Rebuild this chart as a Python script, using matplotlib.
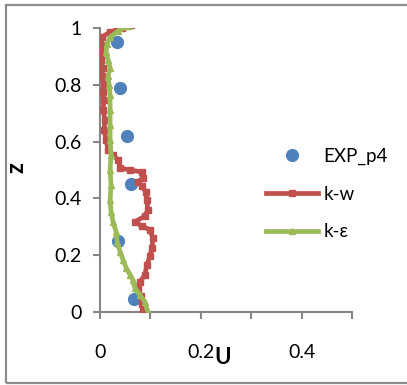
import matplotlib
matplotlib.use("Agg")
import matplotlib.pyplot as plt
from matplotlib.patches import Rectangle
from matplotlib.ticker import MultipleLocator, FuncFormatter

plt.rcParams['font.family'] = ['Lato', 'DejaVu Sans']

exp_u = [0.034, 0.040, 0.054, 0.061, 0.036, 0.067]
exp_z = [0.950, 0.790, 0.620, 0.450, 0.250, 0.046]

kw_u = [0.062, 0.044, 0.020, 0.004, 0.002, 0.006, 0.002, 0.006, 0.004, 0.008,
        0.006, 0.008, 0.006, 0.010, 0.008, 0.012, 0.016, 0.026, 0.036, 0.040,
        0.060, 0.083, 0.085, 0.075, 0.083, 0.091, 0.093, 0.095, 0.089, 0.069,
        0.083, 0.099, 0.105, 0.103, 0.099, 0.093, 0.089, 0.079, 0.075, 0.081,
        0.083, 0.085]
kw_z = [1.011, 1.000, 0.986, 0.968, 0.940, 0.915, 0.887, 0.859, 0.831, 0.803,
        0.775, 0.746, 0.711, 0.676, 0.641, 0.606, 0.570, 0.553, 0.535, 0.507,
        0.500, 0.493, 0.472, 0.458, 0.444, 0.423, 0.394, 0.359, 0.338, 0.317,
        0.303, 0.289, 0.261, 0.225, 0.197, 0.165, 0.130, 0.106, 0.085, 0.056,
        0.028, 0.000]

ke_u = [0.056, 0.036, 0.020, 0.014, 0.012, 0.016, 0.020, 0.016, 0.018, 0.020,
        0.020, 0.020, 0.020, 0.022, 0.020, 0.022, 0.020, 0.022, 0.026, 0.032,
        0.034, 0.040, 0.046, 0.052, 0.060, 0.065, 0.069, 0.079, 0.089, 0.095]
ke_z = [1.007, 0.989, 0.968, 0.944, 0.915, 0.887, 0.859, 0.831, 0.799, 0.764,
        0.711, 0.658, 0.606, 0.553, 0.500, 0.447, 0.394, 0.352, 0.317, 0.282,
        0.246, 0.211, 0.183, 0.155, 0.130, 0.113, 0.085, 0.060, 0.035, 0.000]

x_labels_shown = [0.0, 0.2, 0.4]

fig = plt.figure(figsize=(4.07, 3.85), dpi=100)
fig.patches.append(Rectangle((6/407, 2/385), 1.1, (383-5)/385 + 0.001, transform=fig.transFigure,
                             fill=False, edgecolor='#8c8c8c', linewidth=1.6))
ax = fig.add_axes([100/407, (385-312)/385, 252/407, 284/385])

ax.plot(exp_u, exp_z, 'o', color='#4F81BD', markersize=8.5, label='EXP_p4', zorder=2)
ax.plot(kw_u, kw_z, '-s', color='#C0504D', linewidth=3.4, markersize=4, label='k-w', zorder=3)
ax.plot(ke_u, ke_z, '-^', color='#9BBB59', linewidth=3.4, markersize=4, label='k-ε', zorder=4)

ax.set_xlim(0, 0.5)
ax.set_ylim(0, 1)
ax.xaxis.set_major_locator(MultipleLocator(0.1))
ax.yaxis.set_major_locator(MultipleLocator(0.2))

def xfmt(v, pos):
    for s in x_labels_shown:
        if abs(v - s) < 1e-6:
            return '%g' % s
    return ''
ax.xaxis.set_major_formatter(FuncFormatter(xfmt))
ax.yaxis.set_major_formatter(FuncFormatter(lambda v, p: '%g' % round(v, 1)))

for s in ['top', 'right']:
    ax.spines[s].set_visible(False)
for s in ['left', 'bottom']:
    ax.spines[s].set_color('#868686')
    ax.spines[s].set_linewidth(1.5)
ax.tick_params(axis='both', colors='#868686', width=1.5, length=5, labelcolor='black', labelsize=14)
ax.tick_params(axis='x', pad=18)
ax.tick_params(axis='y', pad=8)

ax.set_xlabel('U', fontsize=16, fontweight='bold')
ax.xaxis.set_label_coords(0.488, -0.125)
ax.set_ylabel('z', fontsize=17, fontweight='bold')
ax.yaxis.set_label_coords(-0.29, 0.51)

ax.legend(loc='center left', bbox_to_anchor=(258/407, (385-194)/385), bbox_transform=fig.transFigure,
          frameon=False, fontsize=13.5, handlelength=2.8, labelspacing=1.1, handletextpad=0.3,
          borderaxespad=0)

fig.savefig('out.png', dpi=100)
